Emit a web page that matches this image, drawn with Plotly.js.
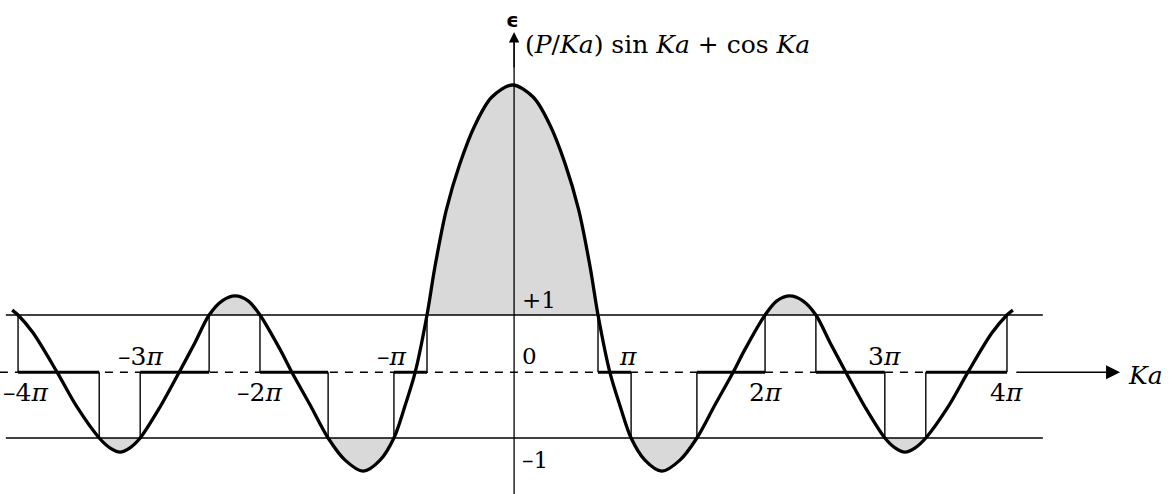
<!DOCTYPE html>
<html>
<head>
<meta charset="utf-8">
<script src="https://cdn.plot.ly/plotly-3.0.1.min.js"></script>
<style>html,body{margin:0;padding:0;background:#fff;}#chart{width:1176px;height:494px;}</style>
</head>
<body>
<div id="chart"></div>
<script>
// Curve (P/Ka) sin Ka + cos Ka
const curveKa = [-12.70,-12.55,-12.17,-11.56,-11.05,-10.49,-10.22,-9.96,-9.71,-9.45,-8.95,-8.46,-8.06,-7.70,-7.37,-7.04,-6.71,-6.41,-5.90,-5.60,-5.14,-4.68,-4.25,-3.79,-3.36,-3.01,-2.74,-2.47,-2.17,-1.97,-1.68,-1.33,-0.95,-0.53,0.00,0.53,0.95,1.33,1.68,1.97,2.17,2.47,2.74,3.01,3.36,3.79,4.25,4.68,5.14,5.60,5.90,6.41,6.71,7.04,7.37,7.70,8.06,8.46,8.95,9.45,9.71,9.96,10.22,10.49,11.05,11.56,12.17,12.55,12.70];
const curveEps = [1.08,1.00,0.71,0.07,-0.50,-1.00,-1.16,-1.23,-1.16,-1.00,-0.50,0.07,0.55,1.00,1.23,1.31,1.23,1.00,0.44,0.07,-0.46,-1.00,-1.36,-1.54,-1.36,-1.00,-0.50,0.07,1.00,1.78,2.71,3.47,4.09,4.54,4.74,4.54,4.09,3.47,2.71,1.78,1.00,0.07,-0.50,-1.00,-1.36,-1.54,-1.36,-1.00,-0.46,0.07,0.44,1.00,1.23,1.31,1.23,1.00,0.55,0.07,-0.50,-1.00,-1.16,-1.23,-1.16,-1.00,-0.50,0.07,0.71,1.00,1.08];

// Band edges (where the curve meets +1 / -1)
const bandEdgesKa = [-12.55,-10.49,-9.45,-7.70,-6.41,-4.68,-3.01,-2.17,2.17,3.01,4.68,6.41,7.70,9.45,10.49,12.55];
const bandEdgeEps = [1,-1,-1,1,1,-1,-1,1,1,-1,-1,1,1,-1,-1,1];
const kaAxisEps = 0.07;

// Reference lines
const refLevels = [1, -1];
const refSpanKa = [-12.86, 13.46];
const dashedSpanKa = [-13.01, 12.55];
const epsAxisKa = 0.04;
const epsAxisSpan = [-1.91, 5.60];
const kaArrowSpan = [12.75, 15.42];

// Tick labels
const tickLabels = ['–4<i>π</i>','–3<i>π</i>','–2<i>π</i>','–<i>π</i>','<i>π</i>','2<i>π</i>','3<i>π</i>','4<i>π</i>'];
const tickKa = [-12.98,-9.45,-6.43,-3.06,2.93,6.41,9.45,12.55];
const tickAnchor = ['left','center','center','center','center','center','center','center'];
const tickAbove = [false,true,false,true,true,false,true,false];
const levelLabels = ['+1','0','–1'];
const levelLabelEps = [1.24,0.33,-1.36];

const serif = 'DejaVu Serif, serif';
const traces = [];

// gray fills where |eps| > 1
let run = [];
const runs = [];
for (let i = 0; i < curveKa.length; i++) {
  if (Math.abs(curveEps[i]) >= 0.999) { run.push(i); }
  else { if (run.length) runs.push(run); run = []; }
}
if (run.length) runs.push(run);
runs.forEach(r => {
  if (r.length < 3) return;
  traces.push({
    x: r.map(i => curveKa[i]), y: r.map(i => curveEps[i]),
    mode: 'lines', fill: 'toself', fillcolor: '#d9d9d9',
    line: {width: 0, shape: 'spline', smoothing: 0.9, color: 'rgba(0,0,0,0)'}, hoverinfo: 'skip'
  });
});

// +1 / -1 lines
refLevels.forEach(l => traces.push({
  x: refSpanKa, y: [l, l], mode: 'lines', line: {color: '#000', width: 1.3}, hoverinfo: 'skip'
}));
// dashed Ka axis
traces.push({x: dashedSpanKa, y: [kaAxisEps, kaAxisEps], mode: 'lines',
  line: {color: '#000', width: 1.4, dash: '8px,7px'}, hoverinfo: 'skip'});
// vertical axis line
traces.push({x: [epsAxisKa, epsAxisKa], y: [epsAxisSpan[0], epsAxisSpan[1] - 0.1], mode: 'lines',
  line: {color: '#000', width: 1.3}, hoverinfo: 'skip'});

// step verticals
const vx = [], vy = [];
bandEdgesKa.forEach((k, i) => { vx.push(k, k, null); vy.push(bandEdgeEps[i], kaAxisEps, null); });
traces.push({x: vx, y: vy, mode: 'lines', line: {color: '#000', width: 1.4}, hoverinfo: 'skip'});
// allowed bands (thick on axis)
const bx = [], by = [];
for (let i = 0; i < bandEdgesKa.length; i += 2) {
  bx.push(bandEdgesKa[i], bandEdgesKa[i + 1], null); by.push(kaAxisEps, kaAxisEps, null);
}
traces.push({x: bx, y: by, mode: 'lines', line: {color: '#000', width: 3}, hoverinfo: 'skip'});

// curve
traces.push({x: curveKa, y: curveEps, mode: 'lines',
  line: {color: '#000', width: 3.3, shape: 'spline', smoothing: 0.9}, hoverinfo: 'skip'});

const ann = [];
tickLabels.forEach((t, i) => ann.push({
  x: tickKa[i], y: tickAbove[i] ? 0.32 : -0.26, text: t, showarrow: false,
  xanchor: tickAnchor[i], yanchor: 'middle', font: {family: serif, size: 25, color: '#000'}
}));
levelLabels.forEach((t, i) => ann.push({
  x: 0.18, y: levelLabelEps[i], text: t, showarrow: false, xanchor: 'left', yanchor: 'middle',
  font: {family: serif, size: 23, color: '#000'}
}));
ann.push({x: 0.26, y: 5.40, text: '(<i>P</i>/<i>Ka</i>) sin <i>Ka</i> + cos <i>Ka</i>', showarrow: false,
  xanchor: 'left', yanchor: 'middle', font: {family: serif, size: 25, color: '#000'}});
ann.push({x: 0.0, y: 5.80, text: '<b>ϵ</b>', showarrow: false, xanchor: 'center', yanchor: 'middle',
  font: {family: 'DejaVu Sans, sans-serif', size: 20, color: '#000'}});
ann.push({x: 15.58, y: 0.02, text: '<i>Ka</i>', showarrow: false, xanchor: 'left', yanchor: 'middle',
  font: {family: serif, size: 25, color: '#000'}});
// arrows
ann.push({x: epsAxisKa, y: epsAxisSpan[1], ax: epsAxisKa, ay: epsAxisSpan[1] - 0.6, axref: 'x', ayref: 'y',
  text: '', showarrow: true, arrowhead: 2, arrowsize: 1.6, arrowwidth: 1.3, arrowcolor: '#000', standoff: 0, startstandoff: 0});
ann.push({x: kaArrowSpan[1], y: kaAxisEps, ax: kaArrowSpan[0], ay: kaAxisEps, axref: 'x', ayref: 'y',
  text: '', showarrow: true, arrowhead: 2, arrowsize: 2.0, arrowwidth: 1.4, arrowcolor: '#000', standoff: 0, startstandoff: 0});

const layout = {
  width: 1176, height: 494, autosize: false,
  margin: {l: 0, r: 0, t: 0, b: 0, pad: 0},
  paper_bgcolor: '#fff', plot_bgcolor: '#fff', showlegend: false,
  xaxis: {range: [-13.008, 16.840], visible: false, fixedrange: true},
  yaxis: {range: [-1.911, 6.122], visible: false, fixedrange: true},
  annotations: ann
};
Plotly.newPlot('chart', traces, layout, {displayModeBar: false, staticPlot: true});
</script>
</body>
</html>
